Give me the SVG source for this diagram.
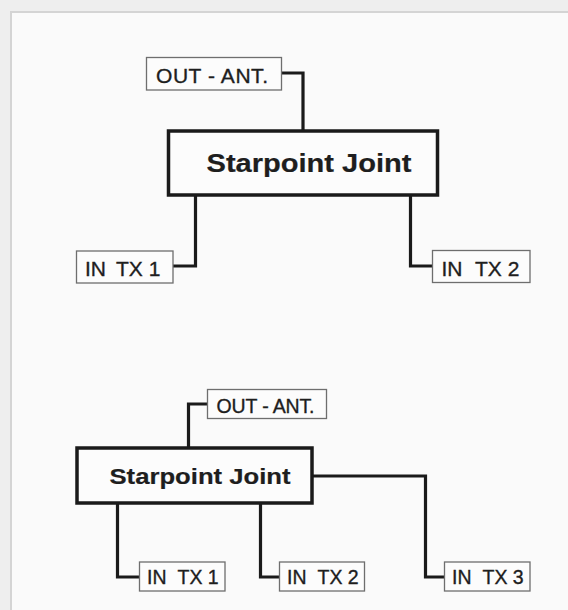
<svg xmlns="http://www.w3.org/2000/svg" width="568" height="610" viewBox="0 0 568 610">
<style>
.bg{fill:#eeeeee}
.frame{fill:#fafafa;stroke:#d4d4d4;stroke-width:2}
.main{fill:#fcfcfc;stroke:#1a1a1a;stroke-width:3.5}
.port{fill:#fcfcfc;stroke:#6e6e6e;stroke-width:1.3}
.wire{fill:none;stroke:#1a1a1a;stroke-width:3.2;stroke-linejoin:miter}
.t{font-family:"Liberation Sans",Arial,sans-serif;fill:#1e1e1e;stroke:#1e1e1e;stroke-width:0.35}
.big{font-weight:bold;stroke-width:0.2}
</style>
<rect class="bg" x="0" y="0" width="568" height="610"/>
<rect class="frame" x="11" y="12" width="570" height="610"/>

<g id="connectors">
  <polyline class="wire" points="282,73 303,73 303,131"/>
  <polyline class="wire" points="195.5,195 195.5,266 173,266"/>
  <polyline class="wire" points="410.5,195 410.5,266 433,266"/>
  <polyline class="wire" points="207,404 188.5,404 188.5,448"/>
  <polyline class="wire" points="312,476 425.5,476 425.5,577 444,577"/>
  <polyline class="wire" points="117.5,503 117.5,577 139,577"/>
  <polyline class="wire" points="260.5,503 260.5,577 279,577"/>
</g>

<g id="top-out-ant">
  <rect class="port" x="146.5" y="57.5" width="135" height="32.5"/>
  <text class="t" x="156" y="82.5" font-size="21" textLength="112">OUT - ANT.</text>
</g>
<g id="top-starpoint">
  <rect class="main" x="168.5" y="131" width="269" height="64"/>
  <text class="t big" x="206.5" y="171.5" font-size="25.5" textLength="205" lengthAdjust="spacingAndGlyphs">Starpoint Joint</text>
</g>
<g id="top-in-tx1">
  <rect class="port" x="76.5" y="251" width="96.5" height="32"/>
  <text class="t" y="275.5" font-size="21"><tspan x="85">IN</tspan><tspan x="116">TX 1</tspan></text>
</g>
<g id="top-in-tx2">
  <rect class="port" x="432.5" y="250.5" width="97.5" height="32"/>
  <text class="t" y="275.5" font-size="21"><tspan x="441.5">IN</tspan><tspan x="475">TX 2</tspan></text>
</g>

<g id="bottom-out-ant">
  <rect class="port" x="207.5" y="389.5" width="119" height="29"/>
  <text class="t" x="216.5" y="412.5" font-size="19.5" textLength="98">OUT - ANT.</text>
</g>
<g id="bottom-starpoint">
  <rect class="main" x="77" y="448" width="235" height="55"/>
  <text class="t big" x="109.5" y="483.5" font-size="21.5" textLength="181" lengthAdjust="spacingAndGlyphs">Starpoint Joint</text>
</g>
<g id="bottom-in-tx1">
  <rect class="port" x="139.5" y="562" width="85.5" height="29"/>
  <text class="t" y="583.5" font-size="19.5"><tspan x="147">IN</tspan><tspan x="177.5">TX 1</tspan></text>
</g>
<g id="bottom-in-tx2">
  <rect class="port" x="279.5" y="562" width="85" height="29"/>
  <text class="t" y="583.5" font-size="19.5"><tspan x="287">IN</tspan><tspan x="317.5">TX 2</tspan></text>
</g>
<g id="bottom-in-tx3">
  <rect class="port" x="444.5" y="562" width="85.5" height="29"/>
  <text class="t" y="583.5" font-size="19.5"><tspan x="452">IN</tspan><tspan x="482.5">TX 3</tspan></text>
</g>
</svg>
